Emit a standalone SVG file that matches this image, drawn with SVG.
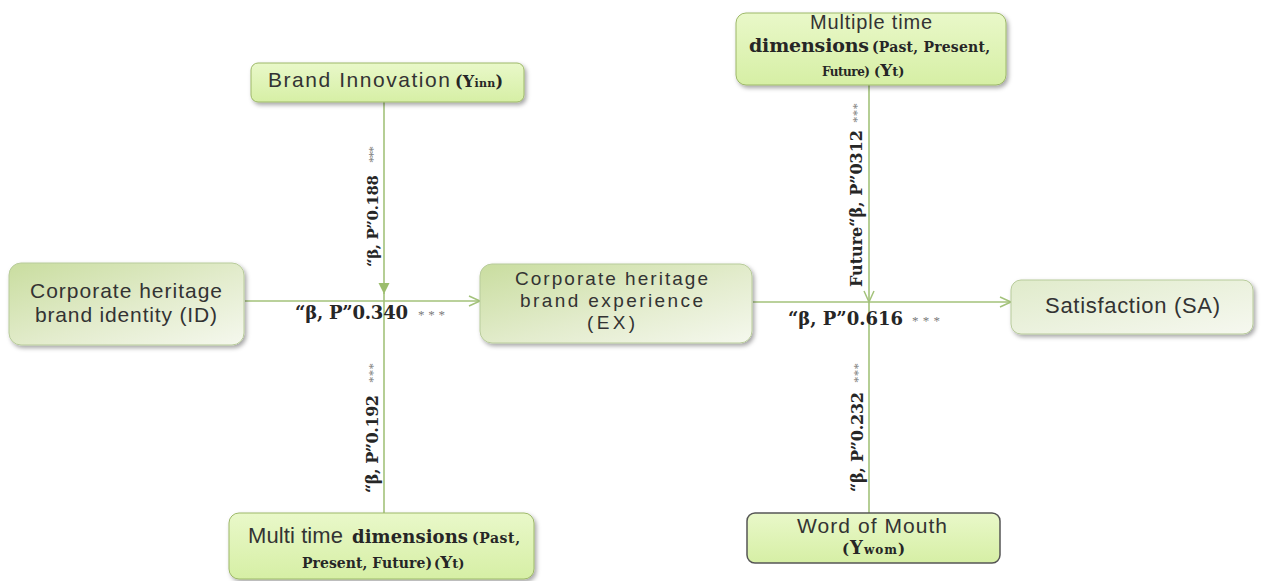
<svg xmlns="http://www.w3.org/2000/svg" width="1262" height="581" viewBox="0 0 1262 581">
  <style>
    .sans { font-family: "Liberation Sans", Arial, sans-serif; fill: #333333; }
    .serif { font-family: "DejaVu Serif", "Liberation Serif", serif; font-weight: bold; fill: #262626; }
    .lbl { font-family: "DejaVu Serif", "Liberation Serif", serif; font-weight: bold; fill: #262626; }
    .ast { font-family: "Liberation Serif", "Times New Roman", serif; fill: #7a7a7a; font-size: 13px; }
    .pale { fill: url(#paleGrad); stroke: #b8cb9b; stroke-width: 1; filter: url(#shadow); }
    .lime { fill: url(#limeGrad); stroke: #9db868; stroke-width: 1; filter: url(#shadow); }
    .edge { stroke: #a3c27a; stroke-width: 1.6; fill: none; }
  </style>
  <defs>
    <linearGradient id="paleGrad" x1="0" y1="0" x2="1" y2="1">
      <stop offset="0" stop-color="#c9dd9f"/>
      <stop offset="0.55" stop-color="#e3eccd"/>
      <stop offset="1" stop-color="#f5f8ee"/>
    </linearGradient>
    <linearGradient id="satGrad" x1="0" y1="0" x2="1" y2="1">
      <stop offset="0" stop-color="#e0ebcb"/>
      <stop offset="1" stop-color="#f6f8f0"/>
    </linearGradient>
    <linearGradient id="limeGrad" x1="0" y1="0" x2="0" y2="1">
      <stop offset="0" stop-color="#e9f8c9"/>
      <stop offset="1" stop-color="#d6efa5"/>
    </linearGradient>
    <filter id="shadow" x="-10%" y="-20%" width="125%" height="150%">
      <feDropShadow dx="2" dy="2.5" stdDeviation="2" flood-color="#000000" flood-opacity="0.35"/>
    </filter>
    <marker id="openArrow" markerUnits="userSpaceOnUse" markerWidth="14" markerHeight="12" refX="12" refY="6" orient="auto">
      <path d="M1,1 L12,6 L1,11" fill="none" stroke="#a3c27a" stroke-width="1.5"/>
    </marker>
    <marker id="solidArrow" markerUnits="userSpaceOnUse" markerWidth="12" markerHeight="12" refX="11" refY="6" orient="auto">
      <path d="M0,0.5 L11,6 L0,11.5 Z" fill="#9bbd6c"/>
    </marker>
  </defs>

  <!-- connectors -->
  <g id="connectors">
    <line class="edge" x1="245" y1="301" x2="480" y2="301" marker-end="url(#openArrow)"/>
    <line class="edge" x1="753" y1="302" x2="1011" y2="302" marker-end="url(#openArrow)"/>
    <line class="edge" x1="384" y1="102" x2="384" y2="294" marker-end="url(#solidArrow)"/>
    <line class="edge" x1="384" y1="292" x2="384" y2="514"/>
    <line class="edge" x1="869" y1="85" x2="869" y2="302" marker-end="url(#openArrow)"/>
    <line class="edge" x1="869" y1="302" x2="869" y2="513"/>
  </g>

  <!-- path coefficients -->
  <g id="labels">
    <text class="lbl" x="295" y="319" font-size="18" textLength="113" lengthAdjust="spacing">“β, P”0.340</text>
    <text class="ast" x="418" y="319" textLength="27" lengthAdjust="spacing">***</text>
    <text class="lbl" x="788" y="325" font-size="18" textLength="115" lengthAdjust="spacing">“β, P”0.616</text>
    <text class="ast" x="912" y="325" textLength="28" lengthAdjust="spacing">***</text>

    <text class="lbl" transform="translate(378,267) rotate(-90)" font-size="15" textLength="92" lengthAdjust="spacing">“β, P”0.188</text>
    <text class="ast" transform="translate(377,163) rotate(-90)" textLength="17" lengthAdjust="spacing">***</text>
    <text class="lbl" transform="translate(378,493) rotate(-90)" font-size="16" textLength="98" lengthAdjust="spacing">“β, P”0.192</text>
    <text class="ast" transform="translate(377,383) rotate(-90)" textLength="20" lengthAdjust="spacing">***</text>
    <text class="lbl" transform="translate(862,287) rotate(-90)" font-size="16" textLength="157" lengthAdjust="spacing">Future“β, P”0312</text>
    <text class="ast" transform="translate(861,123) rotate(-90)" textLength="20" lengthAdjust="spacing">***</text>
    <text class="lbl" transform="translate(863,492) rotate(-90)" font-size="16" textLength="100" lengthAdjust="spacing">“β, P”0.232</text>
    <text class="ast" transform="translate(862,383) rotate(-90)" textLength="20" lengthAdjust="spacing">***</text>
  </g>

  <!-- Corporate heritage brand identity -->
  <g id="node-id">
    <rect class="pale" x="9" y="263" width="235" height="82" rx="12"/>
    <text class="sans" x="30" y="298" font-size="21" textLength="192" lengthAdjust="spacing">Corporate heritage</text>
    <text class="sans" x="35" y="322" font-size="21" textLength="182" lengthAdjust="spacing">brand identity (ID)</text>
  </g>

  <!-- Corporate heritage brand experience -->
  <g id="node-ex">
    <rect class="pale" x="480" y="264" width="272" height="79" rx="12"/>
    <text class="sans" x="515" y="285" font-size="19" textLength="193" lengthAdjust="spacing">Corporate heritage</text>
    <text class="sans" x="520" y="307" font-size="19" textLength="183" lengthAdjust="spacing">brand experience</text>
    <text class="sans" x="587" y="329" font-size="19" textLength="48" lengthAdjust="spacing">(EX)</text>
  </g>

  <!-- Satisfaction -->
  <g id="node-sa">
    <rect class="pale" style="fill:url(#satGrad)" x="1011" y="280" width="242" height="54" rx="10"/>
    <text class="sans" x="1045" y="313" font-size="22" textLength="175" lengthAdjust="spacing">Satisfaction (SA)</text>
  </g>

  <!-- Brand Innovation -->
  <g id="node-inn">
    <rect class="lime" x="251" y="63" width="273" height="39" rx="7"/>
    <text class="sans" x="268" y="87" font-size="21" textLength="182" lengthAdjust="spacing">Brand Innovation</text>
    <text class="serif" x="455" y="87" font-size="16" textLength="48" lengthAdjust="spacing">(Y<tspan font-size="11">inn</tspan>)</text>
  </g>

  <!-- Multiple time dimensions (top) -->
  <g id="node-time-top">
    <rect class="lime" x="736" y="13" width="270" height="72" rx="10"/>
    <text class="sans" x="810" y="29" font-size="20" textLength="122" lengthAdjust="spacing">Multiple time</text>
    <text class="serif" x="749" y="52" font-size="19" textLength="120" lengthAdjust="spacing">dimensions</text>
    <text class="serif" x="872" y="52" font-size="14" textLength="118" lengthAdjust="spacing">(Past, Present,</text>
    <text class="serif" x="822" y="76" font-size="12" textLength="48" lengthAdjust="spacing">Future)</text>
    <text class="serif" x="874" y="76" font-size="13">(<tspan font-size="17">Y</tspan>t)</text>
  </g>

  <!-- Multi time dimensions (bottom) -->
  <g id="node-time-bottom">
    <rect class="lime" x="229" y="513" width="305" height="66" rx="10"/>
    <text class="sans" x="248" y="543" font-size="22" textLength="95" lengthAdjust="spacing">Multi time</text>
    <text class="serif" x="352" y="543" font-size="18" textLength="116" lengthAdjust="spacing">dimensions</text>
    <text class="serif" x="472" y="543" font-size="14" textLength="48" lengthAdjust="spacing">(Past,</text>
    <text class="serif" x="302" y="568" font-size="14" textLength="130" lengthAdjust="spacing">Present, Future)</text>
    <text class="serif" x="434" y="568" font-size="13">(<tspan font-size="17">Y</tspan>t)</text>
  </g>

  <!-- Word of Mouth -->
  <g id="node-wom">
    <rect x="747" y="513" width="253" height="50" rx="8" fill="url(#limeGrad)" stroke="#555555" stroke-width="1.5"/>
    <text class="sans" x="797" y="533" font-size="21" textLength="150" lengthAdjust="spacing">Word of Mouth</text>
    <text class="serif" x="842" y="554" font-size="15" textLength="63" lengthAdjust="spacing">(<tspan font-size="18">Y</tspan><tspan font-size="12">wom</tspan>)</text>
  </g>
</svg>
